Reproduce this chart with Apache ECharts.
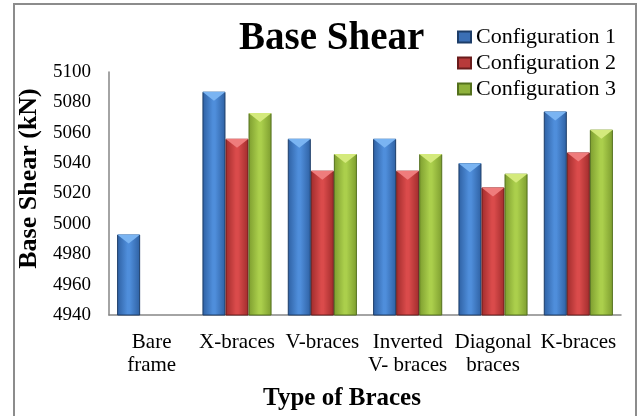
<!DOCTYPE html>
<html>
<head>
<meta charset="utf-8">
<script src="https://cdn.jsdelivr.net/npm/echarts@6/dist/echarts.min.js"></script>
<style>
html,body{margin:0;padding:0;background:#fff;}
#chart{width:641px;height:416px;}
</style>
</head>
<body>
<div id="chart"></div>
<script>
const categories = ['Bare\nframe', 'X-braces', 'V-braces', 'Inverted\nV- braces', 'Diagonal\nbraces', 'K-braces'];
const seriesNames = ['Configuration 1', 'Configuration 2', 'Configuration 3'];
const config1 = [4993, 5087, 5056, 5056, 5040, 5074];
const config2 = [null, 5056, 5035, 5035, 5024, 5047];
const config3 = [null, 5073, 5046, 5046, 5033, 5062];
const yTicks = [4940, 4960, 4980, 5000, 5020, 5040, 5060, 5080, 5100];

const values = [config1, config2, config3];
const palettes = [
  {edge: '#2e60a2', mid: '#4f8edb', border: '#1d3d68', top: '#7ab4f2', legend: '#3b6fb5'},
  {edge: '#a02c2c', mid: '#da4b4b', border: '#6a1c1c', top: '#ef7c7c', legend: '#b83a3a'},
  {edge: '#7d9d2f', mid: '#abcf4c', border: '#53701c', top: '#d4ea7c', legend: '#8fb23c'}
];
const serif = '"Liberation Serif", "Times New Roman", serif';
const catGap = '19%';

function grad(p) {
  return new echarts.graphic.LinearGradient(0, 0, 1, 0, [
    {offset: 0, color: p.edge},
    {offset: 0.45, color: p.mid},
    {offset: 0.55, color: p.mid},
    {offset: 1, color: p.edge}
  ]);
}

const series = [];
values.forEach((v, i) => {
  series.push({
    name: seriesNames[i],
    type: 'bar',
    data: v,
    barGap: '0%',
    barCategoryGap: catGap,
    itemStyle: {color: grad(palettes[i]), borderColor: palettes[i].border, borderWidth: 1}
  });
});
values.forEach((v, i) => {
  series.push({
    name: 'top' + i,
    type: 'pictorialBar',
    data: v,
    barGap: '0%',
    barCategoryGap: catGap,
    symbol: 'path://M0,0 L10,0 L5,10 Z',
    symbolSize: ['100%', 9],
    symbolPosition: 'end',
    symbolOffset: [0, 0],
    itemStyle: {color: palettes[i].top},
    z: 5,
    silent: true
  });
});

const chart = echarts.init(document.getElementById('chart'));
chart.setOption({
  animation: false,
  backgroundColor: '#ffffff',
  color: palettes.map(p => p.legend),
  title: {
    text: 'Base Shear',
    left: 234,
    top: 14,
    textStyle: {fontFamily: serif, fontWeight: 'bold', fontSize: 39, color: '#000'}
  },
  legend: {
    data: seriesNames.map((n, i) => ({name: n, itemStyle: {color: palettes[i].legend}})),
    orient: 'vertical',
    left: 452,
    top: 21,
    itemWidth: 13,
    itemHeight: 11,
    itemGap: 4,
    icon: 'rect',
    textStyle: {fontFamily: serif, fontSize: 22, color: '#000', lineHeight: 22}
  },
  graphic: [{
    type: 'rect',
    shape: {x: 14, y: 4, width: 622, height: 430},
    style: {fill: 'none', stroke: '#8c8c8c', lineWidth: 2},
    silent: true
  }],
  grid: {left: 109, right: 20, top: 72, bottom: 93, containLabel: false},
  xAxis: {
    type: 'category',
    data: categories,
    name: 'Type of Braces',
    nameLocation: 'middle',
    nameGap: 71,
    nameTextStyle: {fontFamily: serif, fontWeight: 'bold', fontSize: 25, color: '#000', padding: [0, 46, 0, 0]},
    axisLine: {lineStyle: {color: '#868686', width: 1.5}},
    axisTick: {show: false},
    axisLabel: {fontFamily: serif, fontSize: 21, color: '#000', margin: 16, lineHeight: 23, interval: 0}
  },
  yAxis: {
    type: 'value',
    min: yTicks[0],
    max: yTicks[yTicks.length - 1],
    interval: yTicks[1] - yTicks[0],
    name: 'Base Shear (kN)',
    nameLocation: 'middle',
    nameGap: 46,
    nameRotate: 90,
    nameTextStyle: {fontFamily: serif, fontWeight: 'bold', fontSize: 26, color: '#000', padding: [0, 0, 0, 30]},
    axisLine: {show: true, lineStyle: {color: '#868686', width: 1.5}},
    axisTick: {show: false},
    splitLine: {show: false},
    axisLabel: {fontFamily: serif, fontSize: 19, color: '#000', margin: 18, formatter: v => String(v)}
  },
  series: series
});
</script>
</body>
</html>
